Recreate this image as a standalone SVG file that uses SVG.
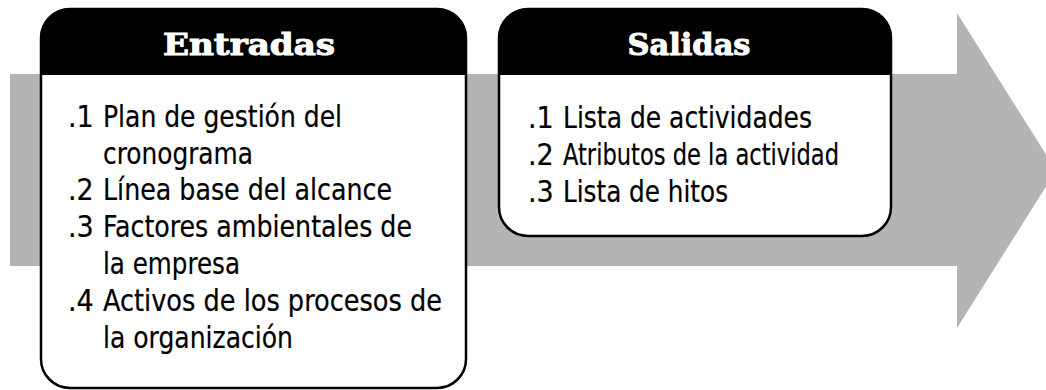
<svg xmlns="http://www.w3.org/2000/svg" width="1046" height="390" viewBox="0 0 1046 390">
<style>
.box{fill:#fff;stroke:#000;stroke-width:2.5}
.hdr{fill:#000}
.ht{font-family:"DejaVu Serif","Liberation Serif",serif;font-weight:bold;font-size:30px;fill:#fff;stroke:#fff;stroke-width:1}
.bt{font-family:"DejaVu Sans Condensed","DejaVu Sans","Liberation Sans",sans-serif;font-size:30px;fill:#000;stroke:#000;stroke-width:0.2}
</style>
<rect width="1046" height="390" fill="#fff"/>
<g id="arrow">
<path d="M10,74 H957 V13 L1056,170.5 L957,328 V266 H10 Z" fill="#B2B4B6"/>
</g>
<g id="entradas">
<rect class="box" x="41" y="9" width="425" height="379" rx="29" ry="29"/>
<path class="hdr" d="M41,75 V38 A29,29 0 0 1 70,9 H437 A29,29 0 0 1 466,38 V75 Z"/>
<text class="ht" x="249" y="55" text-anchor="middle" textLength="172" lengthAdjust="spacingAndGlyphs">Entradas</text>
<text class="bt" x="68" y="127">.1</text>
<text class="bt" x="103" y="127" textLength="239" lengthAdjust="spacingAndGlyphs">Plan de gestión del</text>
<text class="bt" x="103" y="164" textLength="150" lengthAdjust="spacingAndGlyphs">cronograma</text>
<text class="bt" x="68" y="200">.2</text>
<text class="bt" x="103" y="200" textLength="289" lengthAdjust="spacingAndGlyphs">Línea base del alcance</text>
<text class="bt" x="68" y="237">.3</text>
<text class="bt" x="103" y="237" textLength="309" lengthAdjust="spacingAndGlyphs">Factores ambientales de</text>
<text class="bt" x="103" y="274" textLength="137" lengthAdjust="spacingAndGlyphs">la empresa</text>
<text class="bt" x="68" y="311">.4</text>
<text class="bt" x="103" y="311" textLength="339" lengthAdjust="spacingAndGlyphs">Activos de los procesos de</text>
<text class="bt" x="103" y="348" textLength="190" lengthAdjust="spacingAndGlyphs">la organización</text>
</g>
<g id="salidas">
<rect class="box" x="499" y="9" width="392" height="227" rx="29" ry="29"/>
<path class="hdr" d="M499,75 V38 A29,29 0 0 1 528,9 H862 A29,29 0 0 1 891,38 V75 Z"/>
<text class="ht" x="689" y="55" text-anchor="middle" textLength="123" lengthAdjust="spacingAndGlyphs">Salidas</text>
<text class="bt" x="528" y="128">.1</text>
<text class="bt" x="563" y="128" textLength="249" lengthAdjust="spacingAndGlyphs">Lista de actividades</text>
<text class="bt" x="528" y="165">.2</text>
<text class="bt" x="563" y="165" textLength="276" lengthAdjust="spacingAndGlyphs">Atributos de la actividad</text>
<text class="bt" x="528" y="202">.3</text>
<text class="bt" x="563" y="202" textLength="165" lengthAdjust="spacingAndGlyphs">Lista de hitos</text>
</g>
</svg>
